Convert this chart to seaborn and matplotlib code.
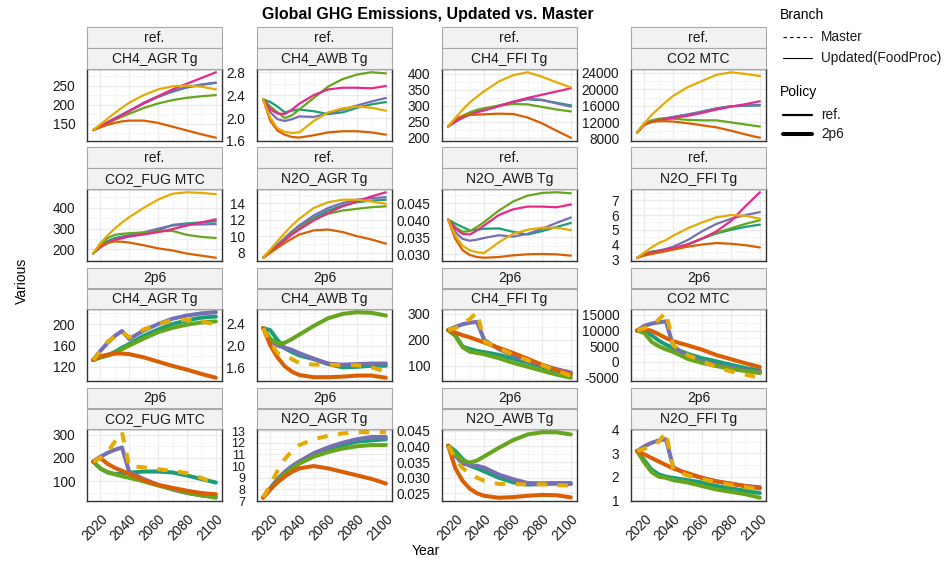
import numpy as np
import pandas as pd
import matplotlib
matplotlib.use("Agg")
import matplotlib.pyplot as plt
import seaborn as sns
from matplotlib.lines import Line2D
from matplotlib.patches import Rectangle
from matplotlib.ticker import FixedLocator

# ---------------- data ----------------
years = [2015, 2020, 2025, 2030, 2035, 2040, 2050, 2060, 2070, 2080, 2090, 2100]
series_order = ["teal", "purple", "green", "pink", "orange", "yellow"]
palette = {"teal": "#1B9E77", "orange": "#D95F02", "purple": "#7570B3",
           "pink": "#E7298A", "green": "#66A61E", "yellow": "#E6AB02"}
policies = ["ref.", "2p6"]
variables = ["CH4_AGR Tg", "CH4_AWB Tg", "CH4_FFI Tg", "CO2 MTC",
             "CO2_FUG MTC", "N2O_AGR Tg", "N2O_AWB Tg", "N2O_FFI Tg"]
master_only_2p6 = ["yellow"]

ref_CH4_AGR = {
    "orange": [133, 140, 147, 152, 156, 158, 158, 152, 142, 132, 122, 113],
    "yellow": [133, 148, 163, 178, 192, 205, 225, 240, 248, 250, 247, 240],
    "pink":   [133, 143, 153, 163, 173, 183, 203, 222, 240, 255, 270, 285],
    "purple": [133, 143, 154, 164, 174, 184, 205, 222, 236, 246, 253, 258],
    "teal":   [133, 143, 153, 163, 173, 183, 203, 220, 234, 245, 252, 257],
    "green":  [133, 142, 151, 160, 168, 176, 191, 203, 212, 218, 222, 225],
}
ref_CH4_AWB = {
    "green":  [2.33, 2.20, 2.10, 2.00, 2.05, 2.15, 2.35, 2.55, 2.68, 2.76, 2.80, 2.78],
    "pink":   [2.33, 2.15, 2.08, 2.07, 2.15, 2.25, 2.40, 2.50, 2.53, 2.53, 2.52, 2.56],
    "teal":   [2.33, 2.28, 2.20, 2.10, 2.13, 2.15, 2.12, 2.07, 2.10, 2.18, 2.24, 2.28],
    "purple": [2.33, 2.10, 1.98, 1.95, 1.98, 2.03, 2.02, 2.08, 2.15, 2.22, 2.29, 2.35],
    "yellow": [2.33, 2.00, 1.82, 1.76, 1.74, 1.75, 1.95, 2.10, 2.17, 2.20, 2.18, 2.13],
    "orange": [2.33, 1.95, 1.78, 1.71, 1.67, 1.66, 1.70, 1.75, 1.77, 1.77, 1.75, 1.71],
}
ref_CH4_FFI = {
    "yellow": [235, 262, 287, 310, 328, 345, 375, 395, 404, 390, 373, 357],
    "pink":   [235, 250, 262, 272, 279, 285, 298, 312, 324, 334, 344, 354],
    "purple": [235, 252, 265, 275, 282, 288, 300, 312, 321, 318, 307, 297],
    "teal":   [235, 250, 263, 273, 281, 287, 299, 311, 320, 317, 309, 301],
    "green":  [235, 254, 268, 279, 287, 292, 300, 305, 304, 296, 288, 282],
    "orange": [235, 258, 268, 271, 272, 273, 275, 274, 263, 245, 222, 200],
}
ref_CO2 = {
    "yellow": [9600, 11800, 13800, 15400, 17000, 18400, 20500, 22000, 23500, 24100, 23700, 23200],
    "purple": [9600, 11500, 12300, 12700, 13000, 13300, 13900, 14600, 15300, 15900, 16100, 16200],
    "teal":   [9600, 11600, 12300, 12700, 13000, 13300, 13900, 14600, 15400, 15900, 16000, 16100],
    "pink":   [9600, 11400, 12100, 12500, 12800, 13100, 13600, 14300, 15100, 15800, 16400, 17100],
    "green":  [9600, 11800, 12500, 12900, 13000, 12900, 12600, 12500, 12500, 12000, 11500, 11000],
    "orange": [9600, 11500, 12100, 12300, 12300, 12200, 11800, 11300, 10800, 10000, 9100, 8300],
}
ref_CO2_FUG = {
    "yellow": [181, 230, 268, 300, 330, 355, 400, 440, 468, 475, 472, 466],
    "orange": [181, 215, 232, 238, 237, 233, 220, 205, 195, 180, 170, 160],
    "green":  [181, 225, 255, 270, 275, 278, 282, 287, 289, 270, 260, 255],
    "teal":   [181, 215, 240, 255, 262, 268, 278, 292, 318, 325, 330, 335],
    "purple": [181, 212, 235, 250, 258, 265, 282, 300, 315, 320, 320, 322],
    "pink":   [181, 210, 230, 245, 254, 262, 272, 283, 298, 315, 330, 345],
}
ref_N2O_AGR = {
    "yellow": [7.4, 8.4, 9.4, 10.4, 11.3, 12.1, 13.4, 14.1, 14.4, 14.4, 14.2, 13.9],
    "orange": [7.4, 8.0, 8.6, 9.2, 9.7, 10.2, 10.7, 10.8, 10.5, 10.0, 9.6, 9.1],
    "pink":   [7.4, 8.1, 8.8, 9.5, 10.2, 10.8, 11.9, 12.8, 13.6, 14.2, 14.8, 15.3],
    "purple": [7.4, 8.2, 9.0, 9.8, 10.6, 11.3, 12.5, 13.4, 14.0, 14.4, 14.6, 14.7],
    "teal":   [7.4, 8.2, 8.9, 9.7, 10.4, 11.1, 12.2, 13.1, 13.7, 14.1, 14.3, 14.4],
    "green":  [7.4, 8.1, 8.9, 9.6, 10.3, 11.0, 12.0, 12.7, 13.1, 13.3, 13.5, 13.6],
}
ref_N2O_AWB = {
    "green":  [.0402, .0380, .0366, .0368, .0380, .0395, .0428, .0455, .0472, .0480, .0482, .0479],
    "pink":   [.0402, .0375, .0360, .0358, .0370, .0385, .0415, .0432, .0440, .0440, .0438, .0446],
    "teal":   [.0402, .0390, .0380, .0370, .0372, .0375, .0376, .0366, .0358, .0368, .0380, .0392],
    "purple": [.0402, .0365, .0345, .0340, .0343, .0348, .0356, .0352, .0360, .0375, .0392, .0408],
    "yellow": [.0402, .0355, .0325, .0312, .0306, .0304, .0335, .0360, .0372, .0378, .0378, .0371],
    "orange": [.0402, .0345, .0312, .0298, .0292, .0290, .0292, .0297, .0300, .0301, .0300, .0296],
}
ref_N2O_FFI = {
    "pink":   [3.1, 3.3, 3.45, 3.55, 3.65, 3.75, 4.0, 4.4, 4.9, 5.6, 6.6, 7.55],
    "yellow": [3.1, 3.45, 3.8, 4.1, 4.3, 4.6, 5.1, 5.5, 5.85, 6.0, 5.95, 5.75],
    "purple": [3.1, 3.35, 3.5, 3.6, 3.7, 3.85, 4.3, 4.9, 5.4, 5.75, 6.0, 6.2],
    "green":  [3.1, 3.35, 3.5, 3.55, 3.6, 3.7, 4.0, 4.4, 4.8, 5.1, 5.4, 5.65],
    "teal":   [3.1, 3.35, 3.5, 3.55, 3.6, 3.7, 4.0, 4.4, 4.75, 5.0, 5.2, 5.35],
    "orange": [3.1, 3.25, 3.35, 3.45, 3.55, 3.65, 3.85, 4.0, 4.1, 4.05, 3.95, 3.8],
}
p26_CH4_AGR = {
    "orange": [133, 140, 143, 145, 145, 144, 138, 130, 122, 115, 107, 100],
    "purple": [133, 150, 165, 178, 187, 172, 188, 200, 210, 216, 220, 222],
    "yellow": [133, 150, 167, 176, 185, 175, 190, 200, 207, 208, 205, 199],
    "teal":   [133, 138, 142, 148, 156, 163, 178, 190, 200, 207, 212, 214],
    "green":  [133, 138, 141, 146, 153, 160, 173, 185, 193, 199, 203, 205],
}
p26_CH4_AWB = {
    "green":  [2.32, 2.12, 2.04, 2.05, 2.12, 2.20, 2.36, 2.50, 2.58, 2.61, 2.60, 2.55],
    "teal":   [2.32, 2.28, 2.10, 1.95, 1.88, 1.82, 1.75, 1.66, 1.60, 1.61, 1.63, 1.63],
    "purple": [2.32, 2.08, 2.00, 1.96, 1.92, 1.86, 1.76, 1.67, 1.65, 1.66, 1.67, 1.67],
    "yellow": [2.32, 2.05, 1.86, 1.82, 1.75, 1.68, 1.65, 1.65, 1.64, 1.64, 1.60, 1.52],
    "orange": [2.32, 2.00, 1.78, 1.62, 1.52, 1.46, 1.42, 1.42, 1.43, 1.45, 1.45, 1.41],
}
p26_CH4_FFI = {
    "purple": [238, 250, 260, 266, 269, 200, 165, 140, 120, 103, 88, 75],
    "yellow": [238, 245, 262, 280, 306, 195, 168, 143, 122, 103, 82, 62],
    "orange": [238, 228, 218, 210, 200, 190, 170, 150, 128, 105, 85, 68],
    "teal":   [238, 218, 175, 165, 158, 153, 143, 128, 113, 97, 82, 70],
    "green":  [238, 215, 172, 155, 150, 145, 130, 112, 97, 82, 67, 55],
}
p26_CO2 = {
    "purple": [10000, 11500, 12200, 12600, 12900, 5000, 1600, 200, -900, -1800, -2600, -3200],
    "yellow": [10000, 10800, 11600, 13500, 15800, 5300, 2200, 300, -1600, -3000, -4000, -5000],
    "orange": [10000, 10500, 9900, 8800, 7600, 6600, 5300, 3900, 2200, 900, -400, -1600],
    "teal":   [10000, 10000, 8500, 6800, 5500, 4400, 2600, 1200, 200, -900, -1900, -2700],
    "green":  [10000, 9200, 6400, 5000, 4000, 3200, 1000, -300, -1300, -2200, -2900, -3500],
}
p26_CO2_FUG = {
    "purple": [185, 205, 222, 235, 245, 140, 110, 85, 65, 50, 40, 35],
    "yellow": [185, 200, 225, 270, 310, 165, 160, 152, 145, 135, 115, 90],
    "teal":   [185, 155, 138, 132, 133, 137, 142, 142, 138, 125, 110, 95],
    "orange": [185, 200, 175, 158, 145, 132, 105, 85, 72, 60, 50, 45],
    "green":  [185, 155, 140, 130, 122, 115, 100, 82, 68, 52, 40, 30],
}
p26_N2O_AGR = {
    "yellow": [7.3, 8.4, 9.6, 10.6, 11.3, 11.8, 12.3, 12.6, 12.8, 12.9, 12.9, 12.9],
    "orange": [7.3, 8.0, 8.6, 9.1, 9.5, 9.8, 10.0, 9.8, 9.5, 9.2, 8.9, 8.5],
    "purple": [7.3, 8.1, 8.9, 9.5, 10.0, 10.4, 11.1, 11.6, 12.0, 12.3, 12.5, 12.5],
    "teal":   [7.3, 8.1, 8.8, 9.4, 9.9, 10.3, 10.9, 11.4, 11.8, 12.1, 12.2, 12.3],
    "green":  [7.3, 8.0, 8.7, 9.3, 9.8, 10.2, 10.8, 11.2, 11.5, 11.7, 11.8, 11.8],
}
p26_N2O_AWB = {
    "green":  [.0402, .0375, .0355, .0348, .0355, .0368, .0395, .0420, .0438, .0445, .0445, .0438],
    "teal":   [.0402, .0385, .0360, .0338, .0330, .0320, .0300, .0285, .0278, .0280, .0281, .0280],
    "purple": [.0402, .0370, .0345, .0340, .0338, .0332, .0310, .0295, .0283, .0282, .0283, .0283],
    "yellow": [.0402, .0360, .0330, .0315, .0300, .0290, .0280, .0280, .0278, .0279, .0276, .0275],
    "orange": [.0402, .0330, .0290, .0265, .0250, .0242, .0236, .0238, .0242, .0245, .0244, .0237],
}
p26_N2O_FFI = {
    "purple": [3.1, 3.3, 3.45, 3.55, 3.6, 2.4, 2.1, 1.95, 1.8, 1.7, 1.6, 1.55],
    "yellow": [3.1, 3.2, 3.3, 3.5, 3.9, 2.3, 2.05, 1.9, 1.75, 1.65, 1.55, 1.45],
    "orange": [3.1, 2.95, 2.8, 2.65, 2.5, 2.35, 2.15, 1.95, 1.8, 1.7, 1.6, 1.5],
    "teal":   [3.1, 2.7, 2.3, 2.1, 2.0, 1.95, 1.85, 1.75, 1.6, 1.5, 1.4, 1.3],
    "green":  [3.1, 2.6, 2.2, 2.0, 1.95, 1.85, 1.75, 1.6, 1.45, 1.35, 1.25, 1.1],
}

panel_data = {
    ("ref.", "CH4_AGR Tg"): ref_CH4_AGR, ("ref.", "CH4_AWB Tg"): ref_CH4_AWB,
    ("ref.", "CH4_FFI Tg"): ref_CH4_FFI, ("ref.", "CO2 MTC"): ref_CO2,
    ("ref.", "CO2_FUG MTC"): ref_CO2_FUG, ("ref.", "N2O_AGR Tg"): ref_N2O_AGR,
    ("ref.", "N2O_AWB Tg"): ref_N2O_AWB, ("ref.", "N2O_FFI Tg"): ref_N2O_FFI,
    ("2p6", "CH4_AGR Tg"): p26_CH4_AGR, ("2p6", "CH4_AWB Tg"): p26_CH4_AWB,
    ("2p6", "CH4_FFI Tg"): p26_CH4_FFI, ("2p6", "CO2 MTC"): p26_CO2,
    ("2p6", "CO2_FUG MTC"): p26_CO2_FUG, ("2p6", "N2O_AGR Tg"): p26_N2O_AGR,
    ("2p6", "N2O_AWB Tg"): p26_N2O_AWB, ("2p6", "N2O_FFI Tg"): p26_N2O_FFI,
}

rows = []
for (pol, var), d in panel_data.items():
    for s, vals in d.items():
        br = "Master" if (pol == "2p6" and s in master_only_2p6) else "Updated(FoodProc)"
        for y, v in zip(years, vals):
            rows.append(dict(policy=pol, variable=var, series=s, branch=br, year=y, value=v))
df = pd.DataFrame(rows)

# y ticks per panel (axis styling)
yticks = {
    ("ref.", "CH4_AGR Tg"): ([150, 200, 250], "{:.0f}"),
    ("ref.", "CH4_AWB Tg"): ([1.6, 2.0, 2.4, 2.8], "{:.1f}"),
    ("ref.", "CH4_FFI Tg"): ([200, 250, 300, 350, 400], "{:.0f}"),
    ("ref.", "CO2 MTC"): ([8000, 12000, 16000, 20000, 24000], "{:.0f}"),
    ("ref.", "CO2_FUG MTC"): ([200, 300, 400], "{:.0f}"),
    ("ref.", "N2O_AGR Tg"): ([8, 10, 12, 14], "{:.0f}"),
    ("ref.", "N2O_AWB Tg"): ([0.030, 0.035, 0.040, 0.045], "{:.3f}"),
    ("ref.", "N2O_FFI Tg"): ([3, 4, 5, 6, 7], "{:.0f}"),
    ("2p6", "CH4_AGR Tg"): ([120, 160, 200], "{:.0f}"),
    ("2p6", "CH4_AWB Tg"): ([1.6, 2.0, 2.4], "{:.1f}"),
    ("2p6", "CH4_FFI Tg"): ([100, 200, 300], "{:.0f}"),
    ("2p6", "CO2 MTC"): ([-5000, 0, 5000, 10000, 15000], "{:.0f}"),
    ("2p6", "CO2_FUG MTC"): ([100, 200, 300], "{:.0f}"),
    ("2p6", "N2O_AGR Tg"): ([7, 8, 9, 10, 11, 12, 13], "{:.0f}"),
    ("2p6", "N2O_AWB Tg"): ([0.025, 0.030, 0.035, 0.040, 0.045], "{:.3f}"),
    ("2p6", "N2O_FFI Tg"): ([1, 2, 3, 4], "{:.0f}"),
}

# ---------------- figure ----------------
sns.set_style("white")
plt.rcParams["font.family"] = ["Liberation Sans", "DejaVu Sans"]
W, H = 952, 563
fig = plt.figure(figsize=(W / 100, H / 100), dpi=100)

col_left = [87, 257, 442, 631]
panel_w = 135
row_top = [69, 189, 309, 429]
panel_h = 72
TXT = "#1A1A1A"

def fx(x):
    return x / W

def fy(y):
    return 1 - y / H

order = [("ref.", v) for v in variables] + [("2p6", v) for v in variables]
for idx, key in enumerate(order):
    r, c = divmod(idx, 4)
    pol, var = key
    L, T = col_left[c], row_top[r]
    ax = fig.add_axes([fx(L), fy(T + panel_h), panel_w / W, panel_h / H])
    sub = df[(df.policy == pol) & (df.variable == var)]
    hue_order = [s for s in series_order if s in sub.series.unique()]
    lw = 1.6 if pol == "ref." else 2.9
    sns.lineplot(data=sub, x="year", y="value", hue="series", style="branch",
                 hue_order=hue_order, palette=palette,
                 dashes={"Master": (2.6, 2.6), "Updated(FoodProc)": ""},
                 style_order=["Updated(FoodProc)", "Master"],
                 linewidth=lw, legend=False, ax=ax, estimator=None, sort=False)
    vmin, vmax = sub.value.min(), sub.value.max()
    pad = (vmax - vmin) * 0.05
    ax.set_ylim(vmin - pad, vmax + pad)
    ax.set_xlim(2015 - 4.25, 2100 + 4.25)
    ax.set_xticks([2020, 2040, 2060, 2080, 2100])
    ax.xaxis.set_minor_locator(FixedLocator([2010, 2030, 2050, 2070, 2090]))
    tks, fmt = yticks[key]
    ax.set_yticks(tks)
    ax.set_yticklabels([fmt.format(t) for t in tks])
    step = tks[1] - tks[0]
    ax.yaxis.set_minor_locator(FixedLocator([t + step / 2 for t in [tks[0] - step] + tks]))
    ax.set_xlabel("")
    ax.set_ylabel("")
    ax.grid(True, which="major", color="#EBEBEB", lw=0.9)
    ax.grid(True, which="minor", color="#F3F3F3", lw=0.6)
    ax.set_axisbelow(True)
    for sp in ax.spines.values():
        sp.set_color("#333333")
        sp.set_linewidth(1.0)
    ysize = 9.0 if len(tks) > 6 else 9.8
    ax.tick_params(axis="y", which="major", length=3, width=0.8, color="#333333",
                   labelsize=ysize, labelcolor=TXT, pad=5.5)
    ax.tick_params(axis="x", which="major", length=3, width=0.8, color="#333333",
                   labelsize=9.8, labelcolor=TXT, pad=5)
    ax.tick_params(which="minor", length=0)
    if r == 3:
        for lab in ax.get_xticklabels():
            lab.set_rotation(45)
            lab.set_ha("right")
            lab.set_rotation_mode("anchor")
    else:
        ax.set_xticklabels([])
        ax.tick_params(axis="x", length=0)
    # strips
    for (y0, y1, label) in [(T - 41.5, T - 21, pol), (T - 20.5, T, var)]:
        rect = Rectangle((fx(L), fy(y1)), panel_w / W, (y1 - y0) / H,
                         transform=fig.transFigure, facecolor="#F2F2F2",
                         edgecolor="#A8A8A8", linewidth=0.8)
        fig.add_artist(rect)
        fig.text(fx(L + panel_w / 2), fy((y0 + y1) / 2), label, ha="center", va="center",
                 fontsize=10, color=TXT)

# titles
fig.text(fx(428), fy(14), "Global GHG Emissions, Updated vs. Master", ha="center", va="center",
         fontsize=11.5, fontweight="bold", color="black")
fig.text(fx(22), fy(281), "Various", rotation=90, ha="center", va="center", fontsize=10, color="black")
fig.text(fx(426), fy(551), "Year", ha="center", va="center", fontsize=10, color="black")

# legend
fig.text(fx(780), fy(15), "Branch", ha="left", va="center", fontsize=10, color="black")
fig.add_artist(Line2D([fx(783), fx(812)], [fy(37), fy(37)], transform=fig.transFigure,
                      color="black", lw=0.8, dashes=(3, 3)))
fig.text(fx(821), fy(37), "Master", ha="left", va="center", fontsize=9.8, color=TXT)
fig.add_artist(Line2D([fx(783), fx(812)], [fy(58), fy(58)], transform=fig.transFigure,
                      color="black", lw=0.8))
fig.text(fx(821), fy(58), "Updated(FoodProc)", ha="left", va="center", fontsize=9.8, color=TXT)
fig.text(fx(780), fy(92), "Policy", ha="left", va="center", fontsize=10, color="black")
fig.add_artist(Line2D([fx(783), fx(812)], [fy(115), fy(115)], transform=fig.transFigure,
                      color="black", lw=1.6))
fig.text(fx(821), fy(115), "ref.", ha="left", va="center", fontsize=9.8, color=TXT)
fig.add_artist(Line2D([fx(783), fx(812)], [fy(134), fy(134)], transform=fig.transFigure,
                      color="black", lw=2.9))
fig.text(fx(821), fy(134), "2p6", ha="left", va="center", fontsize=9.8, color=TXT)

fig.savefig("out.png", dpi=100)
